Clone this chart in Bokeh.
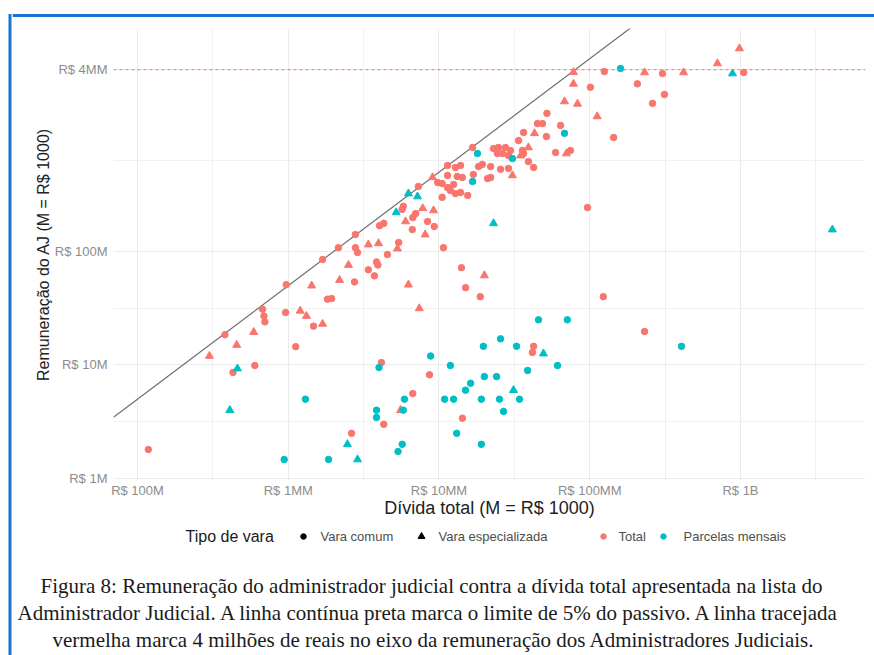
from bokeh.plotting import figure
from bokeh.layouts import row, column
from bokeh.models import Range1d, FixedTicker, Label, Span
from bokeh.embed import file_html
from bokeh.resources import INLINE

# ---------------- data (values in M = R$ 1000) ----------------
# Vara comum / Total
comum_total_divida = [118, 380, 430, 600, 675, 690, 700, 970, 960, 1120, 1470, 1690, 1820, 1940,
                      2750, 2880, 3400, 3730, 3850, 3930, 4550, 4150, 8650, 6700, 4300, 2630,
                      11400, 9800, 10500, 11400, 7300, 5800, 5700, 10500, 7000, 6700, 8400, 9300,
                      4300, 4030, 6650, 2790, 5400, 2790, 2150, 10700, 101000, 52000, 45000, 48600,
                      64000, 36400, 51600, 33700, 35800, 36400, 59300, 74500, 23000, 24800, 27600,
                      29800, 24400, 26400, 28900, 16700, 39200, 42400, 22000, 25600, 28900, 18300,
                      19400, 13900, 12850, 22000, 21000, 11400, 13200, 14300, 16900, 12500, 11900,
                      13900, 12850, 15500, 96600, 1050000, 304000, 125000, 207000, 313000, 261000,
                      144000, 14100, 15000, 18800, 123000, 231000, 42400, 41700, 14300]
comum_total_remun = [1.8, 18.5, 8.6, 9.9, 31, 27, 24, 51, 29, 14.5, 22, 85, 38, 38.5,
                     54, 98, 69, 61, 81, 76, 94, 10.5, 8.2, 5.6, 3.0, 2.5,
                     573, 405, 397, 366, 374, 250, 235, 300, 216, 199, 184, 166,
                     177, 169, 156, 141, 120, 108, 108, 108, 2800, 1650, 1340, 1340,
                     1290, 1120, 1030, 950, 776, 730, 745, 776, 808, 825, 825,
                     776, 730, 730, 700, 825, 620, 550, 560, 530, 540, 560,
                     585, 573, 550, 449, 440, 468, 458, 449, 478, 390, 345,
                     331, 324, 312, 244, 3780, 3700, 3850, 3000, 2420, 2020,
                     1010, 72, 48, 40, 40, 19.7, 14.6, 12.9, 3.4]

# Vara especializada / Total
esp_total_divida = [300, 455, 590, 1200, 1320, 1430, 1690, 2190, 2510, 6270, 7400, 5560,
                    9060, 7800, 9200, 6000, 8100, 5300, 3970, 3400, 78000, 78000, 68000, 83000,
                    112000, 43000, 39200, 70000, 34800, 30700, 984000, 703000, 419000, 231000, 20000]
esp_total_remun = [12, 15, 19.5, 30, 27, 50, 23, 56, 76, 51, 31.5, 4.0,
                   450, 240, 230, 184, 141, 106, 118, 115, 3800, 3000, 2100, 2000,
                   1550, 1100, 825, 730, 700, 468, 6150, 4540, 3780, 3780, 61.5]

# Vara comum / Parcelas mensais
comum_parc_divida = [1300, 4000, 8800, 5900, 3850, 3850, 5800, 5700, 5350, 940, 1850, 68000,
                     30700, 18000, 16700, 160000, 45700, 71000, 25600, 19700, 32700, 406000,
                     11900, 61100, 38700, 20000, 24100, 16200, 15000, 10900, 12500, 19100,
                     25200, 34200, 26800, 13100, 19100]
comum_parc_remun = [5.0, 9.5, 12, 5.0, 4.0, 3.45, 4.0, 2.0, 1.73, 1.47, 1.47, 1100,
                    660, 730, 414, 4100, 25, 25, 17, 14.6, 14.6, 14.6,
                    9.9, 9.9, 8.95, 7.9, 7.9, 6.9, 6.0, 5.0, 5.0, 5.0,
                    5.0, 5.0, 3.9, 2.5, 2.0]

# Vara especializada / Parcelas mensais
esp_parc_divida = [460, 410, 2470, 2880, 6270, 7200, 5200, 23000, 885000, 4070000, 49300, 31200]
esp_parc_remun = [9.3, 4.0, 2.0, 1.47, 324, 305, 221, 177, 3700, 156, 12.6, 6.0]

x_breaks = [100, 1000, 10000, 100000, 1000000]
x_labels = ["R$ 100M", "R$ 1MM", "R$ 10MM", "R$ 100MM", "R$ 1B"]
y_breaks = [1, 10, 100, 4000]
y_labels = ["R$ 1M", "R$ 10M", "R$ 100M", "R$ 4MM"]

legend_title = "Tipo de vara"
legend_shapes = ["Vara comum", "Vara especializada"]
legend_colours = ["Total", "Parcelas mensais"]

caption_lines = [
    "Figura 8: Remuneração do administrador judicial contra a dívida total apresentada na lista do",
    "Administrador Judicial. A linha contínua  preta marca o limite de 5% do passivo. A linha tracejada",
    "vermelha marca 4 milhões de reais no eixo da remuneração dos Administradores Judiciais.",
]

limite_percentual = 0.05      # 5% do passivo
teto_remuneracao = 4000       # R$ 4MM

x_lo, x_hi = 69.3, 6.75e6
y_lo, y_hi = 0.96, 9226

COL_TOTAL = "#F8766D"
COL_PARC = "#00BFC4"
BLUE = "#1a73cc"

W, H = 874, 655          # whole page
LW, TH = 12, 17          # left / top strips (blue frame)
MH = 508                 # main chart height
BH = H - TH - MH         # legend + caption height
CW = W - LW


def no_align(f):
    try:
        f.frame_align = False
    except Exception:
        pass


def blank(w, h, x0, x1, y0, y1):
    f = figure(width=w, height=h, x_range=Range1d(x0, x1), y_range=Range1d(y1, y0),
               output_backend="svg", toolbar_location=None, title=None, min_border=0,
               x_axis_location=None, y_axis_location=None)
    f.outline_line_color = None
    f.background_fill_color = "white"
    f.border_fill_color = "white"
    f.xgrid.visible = False
    f.ygrid.visible = False
    no_align(f)
    return f


# ---------------- main chart ----------------
FL, FR, FT, FB = 101, 853, 11, 463   # frame edges inside the main canvas
p = figure(width=CW, height=MH, x_axis_type="log", y_axis_type="log",
           x_range=Range1d(x_lo, x_hi), y_range=Range1d(y_lo, y_hi),
           output_backend="svg", toolbar_location=None, title=None,
           min_border_left=FL, min_border_right=CW - FR, min_border_top=FT,
           min_border_bottom=MH - FB)
p.outline_line_color = None
p.background_fill_color = "white"
p.border_fill_color = "white"
no_align(p)


def minors(breaks):
    out = []
    for a, b in zip(breaks[:-1], breaks[1:]):
        out.append((a * b) ** 0.5)
    return out


x_minor = minors(x_breaks) + [(x_breaks[-1] ** 3 / x_breaks[-2]) ** 0.5]
y_minor = minors(y_breaks)

for ax, br, lb in ((p.xaxis[0], x_breaks, x_labels), (p.yaxis[0], y_breaks, y_labels)):
    ax.ticker = FixedTicker(ticks=br)
    ax.major_label_overrides = {b: l for b, l in zip(br, lb)}
    ax.axis_line_color = None
    ax.major_tick_line_color = None
    ax.minor_tick_line_color = None
    ax.major_tick_out = 0
    ax.major_tick_in = 0
    ax.minor_tick_out = 0
    ax.minor_tick_in = 0
    ax.major_label_text_font = "Liberation Sans"
    ax.major_label_text_font_size = "13px"
    ax.major_label_text_color = "#8c8c8c"
    ax.axis_label_text_font = "Liberation Sans"
    ax.axis_label_text_font_style = "normal"
    ax.axis_label_text_color = "#222222"

p.xaxis.axis_label = "Dívida total (M = R$ 1000)"
p.xaxis.axis_label_text_font_size = "18px"
p.xaxis.major_label_standoff = 2
p.xaxis.axis_label_standoff = -3
p.yaxis.axis_label = "Remuneração do AJ (M = R$ 1000)"
p.yaxis.axis_label_text_font_size = "16px"
p.yaxis.major_label_standoff = 6
p.yaxis.axis_label_standoff = 0

p.xgrid.ticker = FixedTicker(ticks=x_breaks, minor_ticks=x_minor)
p.ygrid.ticker = FixedTicker(ticks=y_breaks, minor_ticks=y_minor)
for g in (p.xgrid[0], p.ygrid[0]):
    g.grid_line_color = "#ebebeb"
    g.grid_line_width = 1
    g.minor_grid_line_color = "#f1f1f1"
    g.minor_grid_line_width = 1

# 5% line and R$ 4MM dashed line
p.line([x_lo, x_hi], [limite_percentual * x_lo, limite_percentual * x_hi],
       line_color="#6e6e6e", line_width=1.2)
p.add_layout(Span(location=teto_remuneracao, dimension="width", line_color=COL_TOTAL,
                  line_dash="3 3", line_width=1))

# points
p.scatter(comum_total_divida, comum_total_remun, marker="circle", size=6.5,
          fill_color=COL_TOTAL, line_color=COL_TOTAL)
p.scatter(esp_total_divida, esp_total_remun, marker="triangle", size=8,
          fill_color=COL_TOTAL, line_color=COL_TOTAL)
p.scatter(comum_parc_divida, comum_parc_remun, marker="circle", size=6.5,
          fill_color=COL_PARC, line_color=COL_PARC)
p.scatter(esp_parc_divida, esp_parc_remun, marker="triangle", size=8,
          fill_color=COL_PARC, line_color=COL_PARC)

# ---------------- blue frame strips ----------------
left_strip = blank(LW, H, 0, LW, 0, H)
left_strip.quad(left=[8], right=[11], top=[13.5], bottom=[H], fill_color=BLUE, line_color=None)
top_strip = blank(CW, TH, LW, W, 0, TH)
top_strip.quad(left=[LW], right=[W], top=[13.5], bottom=[16.5], fill_color=BLUE, line_color=None)

# ---------------- legend + caption (page coordinates) ----------------
Y0 = TH + MH
b = blank(CW, BH, LW, W, Y0, H)


def lab(text, px, py, size, color="#222222", font="Liberation Sans",
        align="left", baseline="middle"):
    b.add_layout(Label(x=px, y=py, text=text, text_font=font, text_font_size=size,
                       text_color=color, text_align=align, text_baseline=baseline))


LEG_Y = 536
lab(legend_title, 185, LEG_Y, "16px", "#1a1a1a")
b.scatter([303], [LEG_Y], marker="circle", size=5.5, fill_color="black", line_color="black")
lab(legend_shapes[0], 320, LEG_Y, "13px", "#4d4d4d")
b.scatter([421], [LEG_Y], marker="triangle", size=7, fill_color="black", line_color="black")
lab(legend_shapes[1], 438, LEG_Y, "13px", "#4d4d4d")
b.scatter([603], [LEG_Y], marker="circle", size=5.5, fill_color=COL_TOTAL, line_color=COL_TOTAL)
lab(legend_colours[0], 618, LEG_Y, "13px", "#4d4d4d")
b.scatter([663], [LEG_Y], marker="circle", size=5.5, fill_color=COL_PARC, line_color=COL_PARC)
lab(legend_colours[1], 683, LEG_Y, "13px", "#4d4d4d")

for t, px, py in zip(caption_lines, [40, 17, 52], [585, 612, 639]):
    lab(t, px, py, "21px", "#1a1a1a", font="Liberation Serif", baseline="alphabetic")

layout = row(left_strip, column(top_strip, p, b))
open("out.html", "w").write(file_html(layout, INLINE))
